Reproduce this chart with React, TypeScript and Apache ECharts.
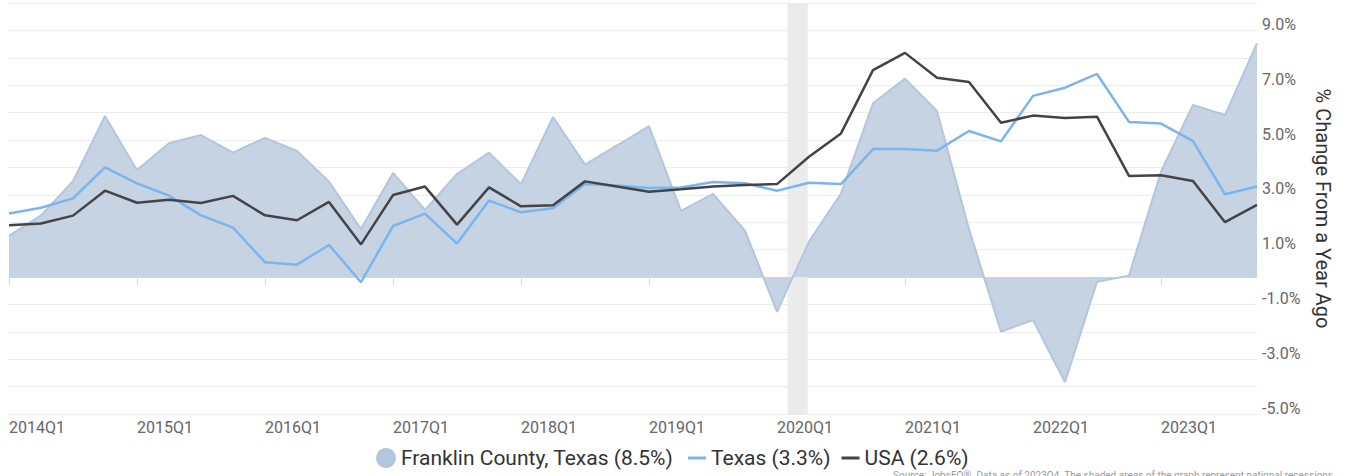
import React, { useEffect, useRef } from 'react';
import * as echarts from 'echarts';

const quarters = [
  '2014Q1', '2014Q2', '2014Q3', '2014Q4',
  '2015Q1', '2015Q2', '2015Q3', '2015Q4',
  '2016Q1', '2016Q2', '2016Q3', '2016Q4',
  '2017Q1', '2017Q2', '2017Q3', '2017Q4',
  '2018Q1', '2018Q2', '2018Q3', '2018Q4',
  '2019Q1', '2019Q2', '2019Q3', '2019Q4',
  '2020Q1', '2020Q2', '2020Q3', '2020Q4',
  '2021Q1', '2021Q2', '2021Q3', '2021Q4',
  '2022Q1', '2022Q2', '2022Q3', '2022Q4',
  '2023Q1', '2023Q2', '2023Q3', '2023Q4',
];

const franklin = [
  1.5, 2.25, 3.5, 5.88, 3.9, 4.88, 5.18, 4.54, 5.08, 4.6,
  3.48, 1.75, 3.8, 2.45, 3.76, 4.54, 3.39, 5.84, 4.1, 4.8,
  5.51, 2.41, 3.03, 1.69, -1.27, 1.29, 3.05, 6.34, 7.24, 6.06,
  1.75, -2.0, -1.57, -3.84, -0.17, 0.05, 3.85, 6.28, 5.91, 8.53,
];

const texas = [
  2.32, 2.53, 2.87, 4.0, 3.42, 2.97, 2.25, 1.8, 0.54, 0.45,
  1.17, -0.19, 1.86, 2.31, 1.22, 2.79, 2.36, 2.51, 3.39, 3.34,
  3.25, 3.27, 3.47, 3.42, 3.15, 3.44, 3.39, 4.67, 4.67, 4.61,
  5.33, 4.95, 6.61, 6.91, 7.41, 5.66, 5.6, 4.96, 3.02, 3.3,
];

const usa = [
  1.89, 1.95, 2.24, 3.15, 2.71, 2.82, 2.7, 2.96, 2.25, 2.07,
  2.74, 1.19, 2.99, 3.3, 1.91, 3.27, 2.58, 2.62, 3.49, 3.3,
  3.11, 3.2, 3.3, 3.36, 3.39, 4.39, 5.24, 7.55, 8.18, 7.27,
  7.12, 5.63, 5.89, 5.8, 5.85, 3.69, 3.71, 3.5, 2.0, 2.63,
];

const seriesNames = ['Franklin County, Texas (8.5%)', 'Texas (3.3%)', 'USA (2.6%)'];
const q1Ticks = [0, 4, 8, 12, 16, 20, 24, 28, 32, 36];
const recession = [24.33, 24.96];
const sourceText = 'Source: JobsEQ®. Data as of 2023Q4. The shaded areas of the graph represent national recessions';

const FONT = 'Roboto, "Noto Sans", sans-serif';

export default function App() {
  const ref = useRef<HTMLDivElement>(null);

  useEffect(() => {
    if (!ref.current) return;
    const chart = echarts.init(ref.current, null, { renderer: 'svg' });
    const pairs = (arr: number[]) => arr.map((v, i) => [i, v]);

    chart.setOption({
      animation: false,
      textStyle: { fontFamily: FONT },
      grid: { left: 9, right: 92, top: 3, bottom: 62, containLabel: false },
      xAxis: {
        type: 'value',
        min: 0,
        max: quarters.length - 1,
        interval: 4,
        splitLine: { show: false },
        axisLine: { show: true, lineStyle: { color: '#ccd6eb', width: 1 } },
        axisTick: {
          show: true,
          customValues: q1Ticks,
          length: 8,
          lineStyle: { color: '#ccd6eb' },
        },
        axisLabel: {
          customValues: q1Ticks,
          formatter: (v: number) => quarters[Math.round(v)] ?? '',
          align: 'left',
          margin: 5,
          fontSize: 16,
          color: '#666666',
          fontFamily: FONT,
        },
      },
      yAxis: {
        type: 'value',
        position: 'right',
        min: -5,
        max: 10,
        interval: 1,
        axisLine: { show: false },
        axisTick: { show: false },
        splitLine: { show: true, lineStyle: { color: '#ececec', width: 1 } },
        axisLabel: {
          formatter: (v: number) => (Math.round(v) % 2 !== 0 ? v.toFixed(1) + '%' : ''),
          align: 'left',
          verticalAlign: 'bottom',
          lineHeight: 12,
          margin: 5,
          fontSize: 16,
          color: '#666666',
          fontFamily: FONT,
        },
        name: '% Change From a Year Ago',
        nameLocation: 'middle',
        nameRotate: -90,
        nameGap: 56,
        nameTextStyle: { fontSize: 20, color: '#333333', fontFamily: FONT },
      },
      legend: [
        {
          data: [{ name: seriesNames[0], icon: 'circle' }],
          left: 376,
          top: 447,
          itemWidth: 20,
          itemHeight: 20,
          itemGap: 0,
          padding: 0,
          textStyle: { fontSize: 21, color: '#333333', fontFamily: FONT, lineHeight: 22 },
          selectedMode: false,
        },
        {
          data: [seriesNames[1], seriesNames[2]],
          icon: 'rect',
          left: 688,
          top: 447,
          itemWidth: 18,
          itemHeight: 3,
          itemGap: 11,
          padding: 0,
          textStyle: { fontSize: 21, color: '#333333', fontFamily: FONT, lineHeight: 22 },
          selectedMode: false,
        },
      ],
      graphic: [
        {
          type: 'text',
          left: 893,
          top: 470,
          silent: true,
          style: { text: sourceText, fontSize: 10, fill: '#999999', fontFamily: FONT },
        },
      ],
      series: [
        {
          type: 'line',
          name: 'recession',
          data: [],
          z: 0,
          silent: true,
          markArea: {
            silent: true,
            itemStyle: { color: '#ebebeb' },
            data: [[{ xAxis: recession[0] }, { xAxis: recession[1] }]],
          },
        },
        {
          type: 'line',
          name: seriesNames[0],
          data: pairs(franklin),
          z: 1,
          showSymbol: false,
          symbol: 'none',
          color: '#b3c6dd',
          lineStyle: { color: '#b4c6dc', width: 2 },
          areaStyle: { color: '#c5d3e3', opacity: 1, origin: 0 },
        },
        {
          type: 'line',
          name: seriesNames[1],
          data: pairs(texas),
          z: 2,
          showSymbol: false,
          symbol: 'none',
          color: '#7cb5ec',
          lineStyle: { color: '#7cb5ec', width: 2.5 },
        },
        {
          type: 'line',
          name: seriesNames[2],
          data: pairs(usa),
          z: 3,
          showSymbol: false,
          symbol: 'none',
          color: '#434348',
          lineStyle: { color: '#434348', width: 2.5 },
        },
      ],
    });

    return () => chart.dispose();
  }, []);

  return (
    <div
      ref={ref}
      style={{ position: 'absolute', left: 0, top: 0, width: 1349, height: 476, background: '#ffffff' }}
    />
  );
}
